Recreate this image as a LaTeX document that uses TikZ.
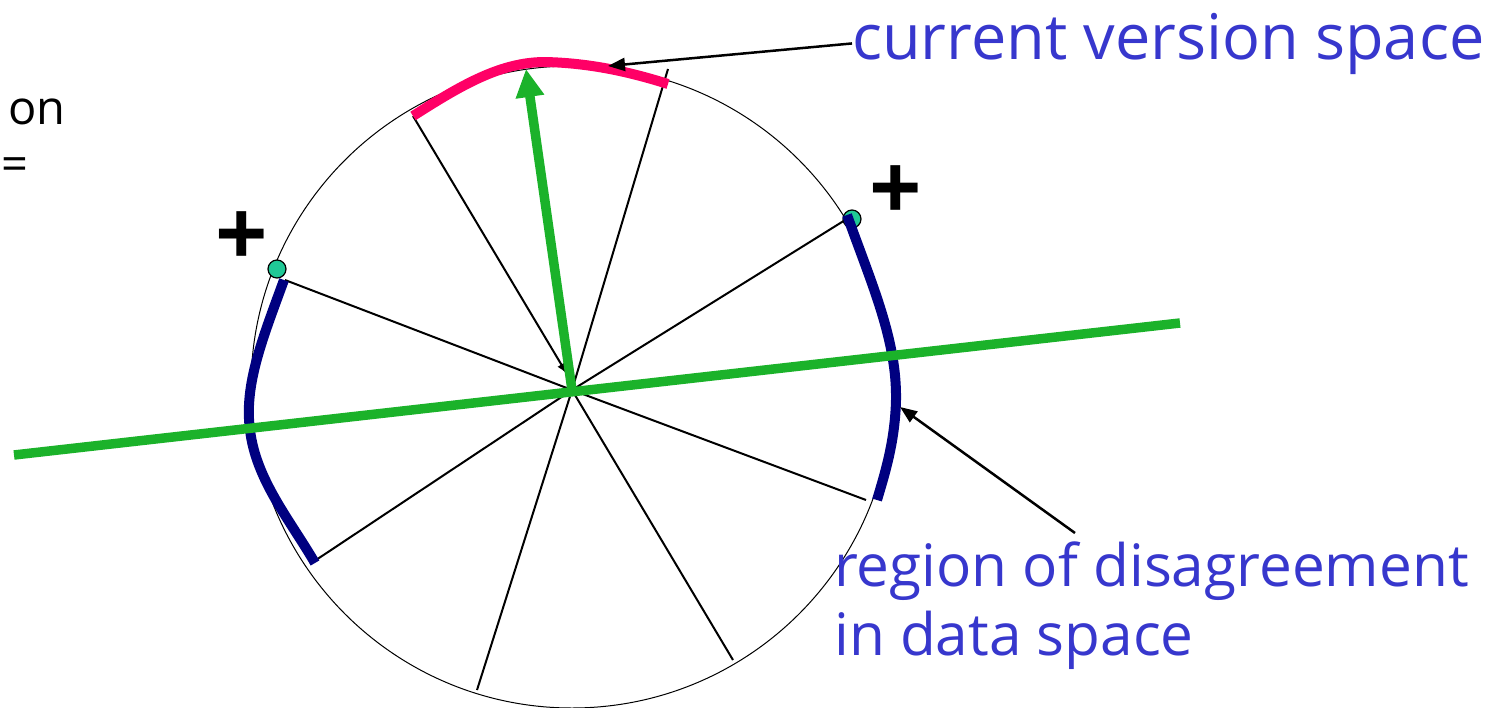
\documentclass[tikz,border=0pt]{standalone}
\usepackage{fontspec}
\setmainfont{Open Sans}
\usetikzlibrary{arrows.meta}
\definecolor{txtblue}{RGB}{55,55,205}
\definecolor{vsgreen}{RGB}{27,178,42}
\definecolor{vspink}{RGB}{255,0,102}
\definecolor{vsnavy}{RGB}{0,0,128}
\definecolor{dotgreen}{RGB}{32,200,150}
\tikzset{
  spoke/.style={line width=2pt, black},
  ring/.style={circle, draw=black, line width=1pt, inner sep=0pt, minimum size=642pt},
  thickgreen/.style={line width=9.5pt, vsgreen},
  pinkarc/.style={line width=10pt, vspink},
  navyarc/.style={line width=10pt, vsnavy},
  pdot/.style={circle, draw=black, line width=1.2pt, fill=dotgreen, inner sep=0pt, minimum size=18pt},
  pointer/.style={line width=2.5pt, black, -{Triangle[length=17pt,width=13pt]}},
  bluetxt/.style={text=txtblue, font=\fontsize{63}{69}\selectfont, inner sep=0pt},
  bluetxtb/.style={text=txtblue, font=\fontsize{58.5}{69}\selectfont, inner sep=0pt},
  blacktxt/.style={text=black, font=\fontsize{47}{50}\selectfont, inner sep=0pt},
  plustxt/.style={text=black, font=\fontsize{92}{92}\bfseries\selectfont, inner sep=0pt}
}
\begin{document}
\begin{tikzpicture}[x=1pt,y=-1pt]
\useasboundingbox (0,0) rectangle (1497,707);
% circle
\node[ring] (circ) at (572,387) {};
\coordinate (O) at (572,390);
% spoke ends
\coordinate (s1) at (413,116);
\coordinate (a1) at (567,374);
\coordinate (s2) at (668,69);
\coordinate (s3) at (850,217);
\coordinate (s4) at (285,280);
\coordinate (s5) at (313,562);
\coordinate (s6) at (477,690);
\coordinate (s7) at (733,660);
\coordinate (s8) at (866,500);
\draw[spoke, -{Latex[length=11pt,width=9pt]}] (s1) -- (a1);
\foreach \s in {s2,s3,s4,s5,s6,s7,s8} \draw[spoke] (O) -- (\s);
% pink arc (current version space)
\draw[pinkarc] (s1) .. controls (460,86) and (500,62) .. (545,62)
  .. controls (590,63) and (630,72) .. (668,84);
% dots
\node[pdot] (d1) at (277,269) {};
\node[pdot] (d2) at (852,219) {};
% navy arcs
\draw[navyarc] (284,280) .. controls (262,340) and (244,385) .. (250,430)
  .. controls (256,480) and (290,520) .. (315,563);
\draw[navyarc] (847,215) .. controls (872,285) and (897,340) .. (896,400)
  .. controls (895,440) and (886,470) .. (877,500);
% green line and arrow
\coordinate (gl) at (14,455);
\coordinate (gr) at (1180,323);
\coordinate (gtip) at (526,69);
\draw[thickgreen] (gl) -- (gr);
\draw[thickgreen, -{Triangle[length=28pt,width=27pt]}] (O) -- (gtip);
% plus signs
\node[plustxt] (p1) at (242,239) {+};
\node[plustxt] (p2) at (896,193) {+};
% texts
\node[bluetxt, anchor=base west] (cvs) at (852,59) {current version space};
\node[bluetxtb, anchor=base west, align=left] (rod) at (834,655) {region of disagreement\\in data space};
\node[blacktxt, anchor=base west] (on) at (8,124) {on};
\node[blacktxt, anchor=base west] (eq) at (1,180) {=};
% pointers
\coordinate (pk) at (608,66);
\coordinate (nv) at (900,407);
\coordinate (rs) at (1075,533);
\draw[pointer] (cvs.west) -- (pk);
\draw[pointer] (rs) -- (nv);
\end{tikzpicture}
\end{document}
